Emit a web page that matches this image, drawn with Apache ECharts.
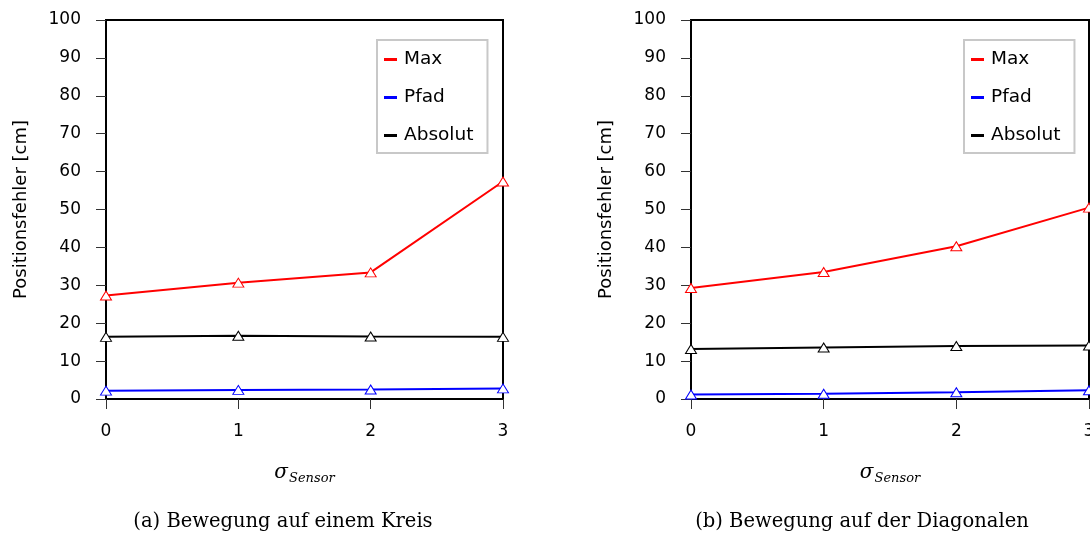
<!DOCTYPE html>
<html>
<head>
<meta charset="utf-8">
<script src="https://cdn.jsdelivr.net/npm/echarts@6/dist/echarts.min.js"></script>
<style>
  html, body { margin: 0; padding: 0; background: #fff; }
  #chart { width: 1090px; height: 538px; }
</style>
</head>
<body>
<div id="chart"></div>
<script>
// Sensor noise levels (x axis)
const sigmaValues = [0, 1, 2, 3];

// (a) movement on a circle
const kreisMax = [27.3, 30.7, 33.4, 57.4];
const kreisPfad = [2.2, 2.4, 2.5, 2.8];
const kreisAbsolut = [16.4, 16.7, 16.5, 16.4];

// (b) movement along the diagonal
const diagMax = [29.3, 33.5, 40.3, 50.5];
const diagPfad = [1.2, 1.4, 1.8, 2.3];
const diagAbsolut = [13.2, 13.6, 14.0, 14.1];

const seriesNames = ['Max', 'Pfad', 'Absolut'];
const seriesColors = ['#ff0000', '#0000ff', '#000000'];
const captions = ['(a) Bewegung auf einem Kreis', '(b) Bewegung auf der Diagonalen'];
const yAxisTitle = 'Positionsfehler [cm]';

const SANS = '"DejaVu Sans", sans-serif';
const SERIF = '"DejaVu Serif", serif';

const grids = [
  { left: 106, top: 20, width: 397, height: 379 },
  { left: 691, top: 20, width: 398, height: 379 }
];

function xAxisFor(i) {
  return {
    gridIndex: i, type: 'value', min: 0, max: 3, interval: 1,
    name: '{s|σ}{sub|Sensor}', nameLocation: 'middle', nameGap: 64,
    nameTextStyle: {
      rich: {
        s: { fontFamily: SERIF, fontStyle: 'italic', fontSize: 20, color: '#000', verticalAlign: 'top', lineHeight: 22 },
        sub: { fontFamily: SERIF, fontStyle: 'italic', fontSize: 13, color: '#000', verticalAlign: 'bottom', padding: [9, 0, 0, 1], lineHeight: 22 }
      }
    },
    axisLine: { show: true, lineStyle: { color: '#000', width: 2 } },
    axisTick: { show: true, inside: false, length: 10, lineStyle: { color: '#333', width: 1 } },
    axisLabel: { color: '#000', fontSize: 17, fontFamily: SANS, margin: 24 },
    splitLine: { show: false }
  };
}

function yAxisFor(i) {
  return {
    gridIndex: i, type: 'value', min: 0, max: 100, interval: 10,
    name: yAxisTitle, nameLocation: 'middle', nameGap: 76,
    nameTextStyle: { color: '#000', fontSize: 18, fontFamily: SANS },
    axisLine: { show: true, lineStyle: { color: '#000', width: 2 } },
    axisTick: { show: true, inside: false, length: 10, lineStyle: { color: '#333', width: 1 } },
    axisLabel: { color: '#000', fontSize: 17, fontFamily: SANS, margin: 25 },
    splitLine: { show: false }
  };
}

function lineSeries(name, values, color, i) {
  return {
    name: name, type: 'line', xAxisIndex: i, yAxisIndex: i,
    data: sigmaValues.map((x, k) => [x, values[k]]),
    symbol: 'triangle', symbolSize: [11, 9], clip: false,
    lineStyle: { color: color, width: 2 },
    itemStyle: { color: '#fff', borderColor: color, borderWidth: 1 },
    emphasis: { disabled: true },
    z: name === 'Max' ? 4 : 3
  };
}

function legendFor(left) {
  return {
    orient: 'vertical', left: left, top: 40,
    padding: [10, 14, 8, 7], itemGap: 19,
    itemWidth: 13, itemHeight: 3,
    backgroundColor: '#fff', borderColor: '#c8c8c8', borderWidth: 2,
    textStyle: { color: '#000', fontSize: 18.5, fontFamily: SANS, padding: [0, 0, 0, 2] },
    selectedMode: false,
    data: seriesNames.map((n, k) => ({
      name: n, icon: 'rect',
      itemStyle: { color: seriesColors[k], borderWidth: 0 }
    }))
  };
}

const chart = echarts.init(document.getElementById('chart'), null, { renderer: 'canvas' });

chart.setOption({
  animation: false,
  backgroundColor: '#fff',
  grid: grids.map(g => Object.assign({ show: true, borderColor: '#000', borderWidth: 2, containLabel: false, outerBoundsMode: 'none' }, g)),
  xAxis: [xAxisFor(0), xAxisFor(1)],
  yAxis: [yAxisFor(0), yAxisFor(1)],
  legend: [legendFor(377), legendFor(964)],
  series: [
    lineSeries('Max', kreisMax, seriesColors[0], 0),
    lineSeries('Pfad', kreisPfad, seriesColors[1], 0),
    lineSeries('Absolut', kreisAbsolut, seriesColors[2], 0),
    lineSeries('Max', diagMax, seriesColors[0], 1),
    lineSeries('Pfad', diagPfad, seriesColors[1], 1),
    lineSeries('Absolut', diagAbsolut, seriesColors[2], 1)
  ],
  graphic: [
    { type: 'text', x: 283, y: 522, style: { text: captions[0], font: '19.5px ' + SERIF, fill: '#000', align: 'center', verticalAlign: 'middle' } },
    { type: 'text', x: 862, y: 522, style: { text: captions[1], font: '19.5px ' + SERIF, fill: '#000', align: 'center', verticalAlign: 'middle' } }
  ]
});
</script>
</body>
</html>
